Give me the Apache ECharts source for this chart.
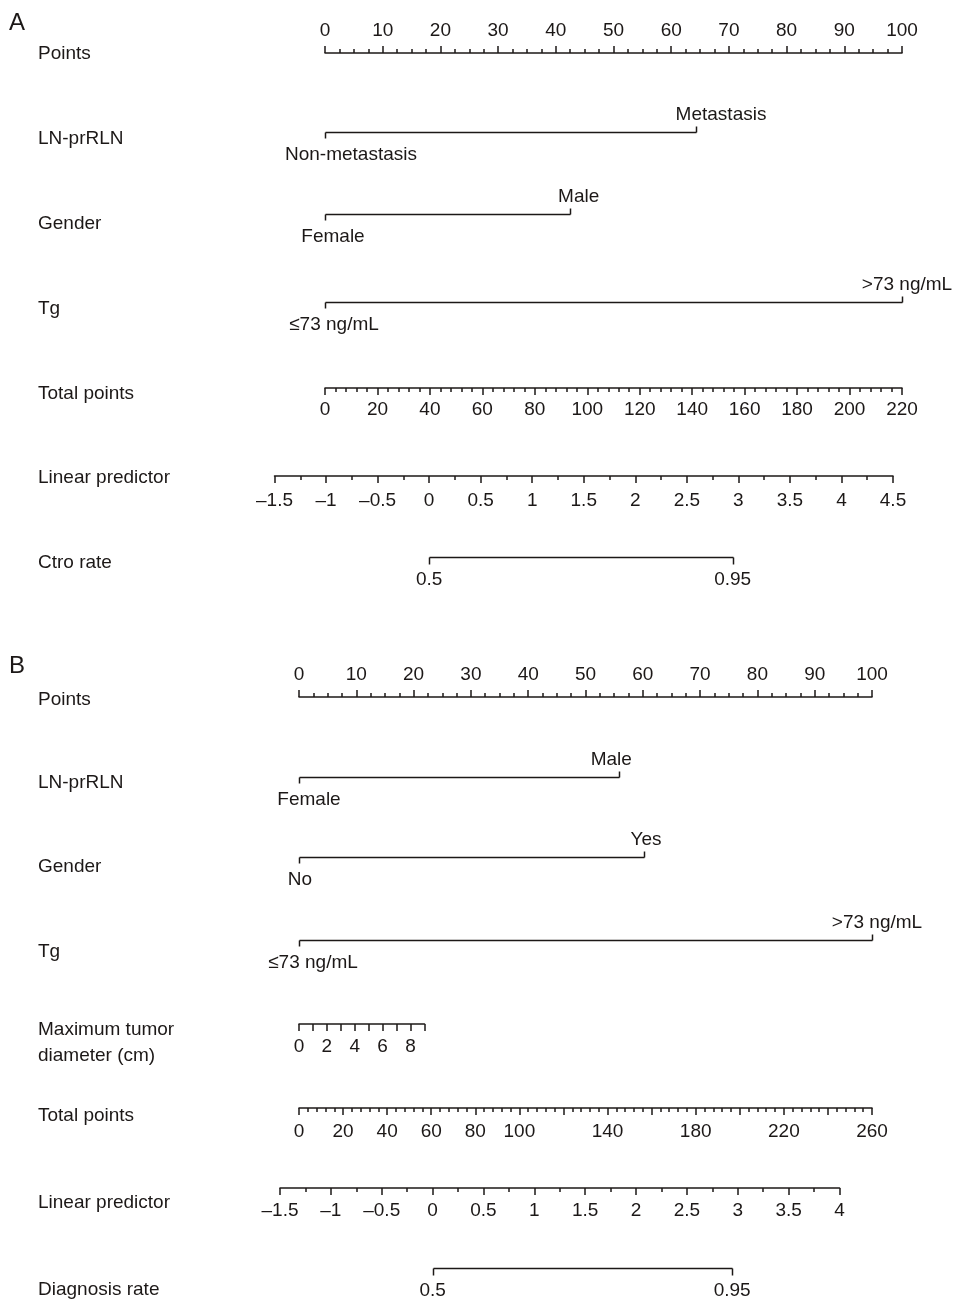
<!DOCTYPE html>
<html>
<head>
<meta charset="utf-8">
<script src="https://cdn.jsdelivr.net/npm/echarts@6/dist/echarts.min.js"></script>
<style>
  html, body { margin: 0; padding: 0; background: #ffffff; }
  #chart { width: 956px; height: 1301px; }
</style>
</head>
<body>
<div id="chart"></div>
<script>
// ---------------- DATA ----------------
// Panel A
const rowNamesA = ['Points', 'LN-prRLN', 'Gender', 'Tg', 'Total points', 'Linear predictor', 'Ctro rate'];
const pointsTickLabels = [0, 10, 20, 30, 40, 50, 60, 70, 80, 90, 100];
const lnLevelsA = ['Non-metastasis', 'Metastasis'];
const lnPointsA = [0, 64.3];
const genderLevelsA = ['Female', 'Male'];
const genderPointsA = [0, 42.4];
const tgLevelsA = ['\u226473 ng/mL', '>73 ng/mL'];
const tgPointsA = [0, 100];
const totalPointsLabelsA = [0, 20, 40, 60, 80, 100, 120, 140, 160, 180, 200, 220];
const lpLabelsA = [-1.5, -1, -0.5, 0, 0.5, 1, 1.5, 2, 2.5, 3, 3.5, 4, 4.5];
const ctroRates = [0.5, 0.95];

// Panel B
const rowNamesB = ['Points', 'LN-prRLN', 'Gender', 'Tg', 'Maximum tumor\ndiameter (cm)', 'Total points', 'Linear predictor', 'Diagnosis rate'];
const lnLevelsB = ['Female', 'Male'];
const lnPointsB = [0, 55.9];
const genderLevelsB = ['No', 'Yes'];
const genderPointsB = [0, 60.2];
const tgLevelsB = ['\u226473 ng/mL', '>73 ng/mL'];
const tgPointsB = [0, 100];
const tumorValues = [0, 1, 2, 3, 4, 5, 6, 7, 8, 9];
const tumorTickLabels = [0, 2, 4, 6, 8];
const tumorMaxPoints = 21.9; // points at 9 cm
const totalPointsLabelsB = [0, 20, 40, 60, 80, 100, 140, 180, 220, 260];
const lpLabelsB = [-1.5, -1, -0.5, 0, 0.5, 1, 1.5, 2, 2.5, 3, 3.5, 4];
const diagnosisRates = [0.5, 0.95];

// ---------------- STYLE / LAYOUT ----------------
const FONT = '"Liberation Sans", Arial, Helvetica, sans-serif';
const INK = '#1c1817';
const LW = 1.5;
const FS = 19;
const CAT_TICK = 6;
const ABOVE = -17, BELOW = 23;

const geoA = { pointsL: 325, pointsR: 902, totalL: 325, totalR: 902, lpL: 274.5, lpR: 893 };
const rowYA = { points: 53, ln: 132, gender: 214, tg: 302, total: 388, lp: 476, rate: 557 };
const nameYA = [54, 139, 224, 309, 394, 478, 563];
const dxA = { ln: [26, 25], gender: [8, 9], tg: [9, 5] };

const geoB = { pointsL: 299, pointsR: 872, totalL: 299, totalR: 872, lpL: 280, lpR: 839.5 };
const rowYB = { points: 697, ln: 777, gender: 857, tg: 940, tumor: 1024, total: 1108, lp: 1188, rate: 1268 };
const nameYB = [700, 783, 867, 952, 1043, 1116, 1203, 1290];
const dxB = { ln: [10, -8], gender: [1, 2], tg: [14, 5] };

const grids = [], xAxes = [], yAxes = [], series = [];

function fmtNum(v) {
  return String(v).replace('-', '\u2013');
}

function addGrid(left, right, lineY, top) {
  const idx = grids.length;
  grids.push({
    left: left, width: right - left,
    top: top ? lineY : lineY - 10, height: 10,
    containLabel: false, outerBoundsMode: 'none', show: false
  });
  yAxes.push({ gridIndex: idx, type: 'value', min: 0, max: 1, show: false });
  return idx;
}

function numericAxis(left, right, lineY, opts) {
  const idx = addGrid(left, right, lineY, opts.top);
  xAxes.push({
    gridIndex: idx, type: 'value', position: opts.top ? 'top' : 'bottom',
    min: opts.min, max: opts.max, interval: opts.interval,
    axisLine: { show: true, onZero: false, lineStyle: { color: INK, width: LW } },
    axisTick: { show: true, inside: false, length: 7, lineStyle: { color: INK, width: LW } },
    minorTick: { show: opts.minor > 1, splitNumber: opts.minor || 1, length: 4, lineStyle: { color: INK, width: LW } },
    splitLine: { show: false }, minorSplitLine: { show: false },
    axisLabel: {
      show: true, margin: opts.margin, fontSize: FS, fontFamily: FONT, color: INK,
      showMinLabel: true, showMaxLabel: true, hideOverlap: false,
      formatter: function (v) {
        const r = Math.round(v * 1000) / 1000;
        return opts.labels.indexOf(r) >= 0 ? fmtNum(r) : '';
      }
    }
  });
  return idx;
}

function hiddenAxis(left, right, lineY, min, max) {
  const idx = addGrid(left, right, lineY, false);
  xAxes.push({ gridIndex: idx, type: 'value', min: min, max: max, show: false });
  return idx;
}

function crisp(v) { return Math.round(v) + 0.5; }

function categoricalRow(left, right, lineY, levels, pts, dxs) {
  const idx = hiddenAxis(left, right, lineY, 0, 100);
  series.push({
    type: 'custom', xAxisIndex: idx, yAxisIndex: idx, silent: true, animation: false, clip: false,
    data: pts.map(function (p, i) { return [p, 0, i]; }),
    renderItem: function (params, api) {
      const i = params.dataIndex;
      const p = api.coord([api.value(0), 0]);
      const px = crisp(p[0]), py = crisp(p[1]);
      const dir = i === 0 ? 1 : -1;
      const kids = [];
      if (i > 0) {
        const q = api.coord([pts[i - 1], 0]);
        kids.push({ type: 'line', shape: { x1: crisp(q[0]), y1: py, x2: px, y2: py }, style: { stroke: INK, lineWidth: LW } });
      }
      kids.push({ type: 'line', shape: { x1: px, y1: py, x2: px, y2: py + dir * CAT_TICK }, style: { stroke: INK, lineWidth: LW } });
      kids.push({ type: 'text', style: { text: levels[i], x: p[0] + dxs[i], y: p[1] + (dir > 0 ? BELOW : ABOVE), align: 'center', verticalAlign: 'middle', fill: INK, font: FS + 'px ' + FONT } });
      return { type: 'group', children: kids };
    }
  });
}

function logit(p) { return Math.log(p / (1 - p)); }

function rateRow(left, right, lineY, min, max, rates) {
  const idx = hiddenAxis(left, right, lineY, min, max);
  series.push({
    type: 'custom', xAxisIndex: idx, yAxisIndex: idx, silent: true, animation: false, clip: false,
    data: rates.map(function (r, i) { return [logit(r), 0, i]; }),
    renderItem: function (params, api) {
      const i = params.dataIndex;
      const p = api.coord([api.value(0), 0]);
      const px = crisp(p[0]), py = crisp(p[1]);
      const kids = [];
      if (i > 0) {
        const q = api.coord([logit(rates[i - 1]), 0]);
        kids.push({ type: 'line', shape: { x1: crisp(q[0]), y1: py, x2: px, y2: py }, style: { stroke: INK, lineWidth: LW } });
      }
      kids.push({ type: 'line', shape: { x1: px, y1: py, x2: px, y2: py + 7 }, style: { stroke: INK, lineWidth: LW } });
      kids.push({ type: 'text', style: { text: String(rates[i]), x: p[0], y: p[1] + BELOW, align: 'center', verticalAlign: 'middle', fill: INK, font: FS + 'px ' + FONT } });
      return { type: 'group', children: kids };
    }
  });
}

// ---------- Panel A ----------
numericAxis(geoA.pointsL, geoA.pointsR, rowYA.points, { top: true, margin: 13, min: 0, max: 100, interval: 10, minor: 4, labels: pointsTickLabels });
categoricalRow(geoA.pointsL, geoA.pointsR, rowYA.ln, lnLevelsA, lnPointsA, dxA.ln);
categoricalRow(geoA.pointsL, geoA.pointsR, rowYA.gender, genderLevelsA, genderPointsA, dxA.gender);
categoricalRow(geoA.pointsL, geoA.pointsR, rowYA.tg, tgLevelsA, tgPointsA, dxA.tg);
numericAxis(geoA.totalL, geoA.totalR, rowYA.total, { margin: 12, min: 0, max: 220, interval: 20, minor: 5, labels: totalPointsLabelsA });
numericAxis(geoA.lpL, geoA.lpR, rowYA.lp, { margin: 15, min: -1.5, max: 4.5, interval: 0.5, minor: 2, labels: lpLabelsA });
rateRow(geoA.lpL, geoA.lpR, rowYA.rate, -1.5, 4.5, ctroRates);

// ---------- Panel B ----------
numericAxis(geoB.pointsL, geoB.pointsR, rowYB.points, { top: true, margin: 13, min: 0, max: 100, interval: 10, minor: 4, labels: pointsTickLabels });
categoricalRow(geoB.pointsL, geoB.pointsR, rowYB.ln, lnLevelsB, lnPointsB, dxB.ln);
categoricalRow(geoB.pointsL, geoB.pointsR, rowYB.gender, genderLevelsB, genderPointsB, dxB.gender);
categoricalRow(geoB.pointsL, geoB.pointsR, rowYB.tg, tgLevelsB, tgPointsB, dxB.tg);
const tumorRight = geoB.pointsL + (geoB.pointsR - geoB.pointsL) * tumorMaxPoints / 100;
numericAxis(geoB.pointsL, tumorRight, rowYB.tumor, { margin: 13, min: tumorValues[0], max: tumorValues[tumorValues.length - 1], interval: 1, minor: 0, labels: tumorTickLabels });
numericAxis(geoB.totalL, geoB.totalR, rowYB.total, { margin: 14, min: 0, max: 260, interval: 20, minor: 5, labels: totalPointsLabelsB });
numericAxis(geoB.lpL, geoB.lpR, rowYB.lp, { margin: 13, min: -1.5, max: 4, interval: 0.5, minor: 2, labels: lpLabelsB });
rateRow(geoB.lpL, geoB.lpR, rowYB.rate, -1.5, 4, diagnosisRates);

// ---------- Left-hand texts ----------
const graphics = [];
graphics.push({ type: 'text', left: 9, top: 11, style: { text: 'A', font: '24px ' + FONT, fill: INK } });
graphics.push({ type: 'text', left: 9, top: 654, style: { text: 'B', font: '24px ' + FONT, fill: INK } });
rowNamesA.forEach(function (n, i) {
  graphics.push({ type: 'text', x: 38, y: nameYA[i], style: { text: n, font: FS + 'px ' + FONT, fill: INK, verticalAlign: 'middle', align: 'left' } });
});
rowNamesB.forEach(function (n, i) {
  graphics.push({ type: 'text', x: 38, y: nameYB[i], style: { text: n, font: FS + 'px ' + FONT, fill: INK, verticalAlign: 'middle', align: 'left', lineHeight: 26 } });
});

const chart = echarts.init(document.getElementById('chart'), null, { renderer: 'canvas' });
chart.setOption({
  backgroundColor: '#ffffff',
  animation: false,
  grid: grids,
  xAxis: xAxes,
  yAxis: yAxes,
  series: series,
  graphic: { elements: graphics }
});
</script>
</body>
</html>
